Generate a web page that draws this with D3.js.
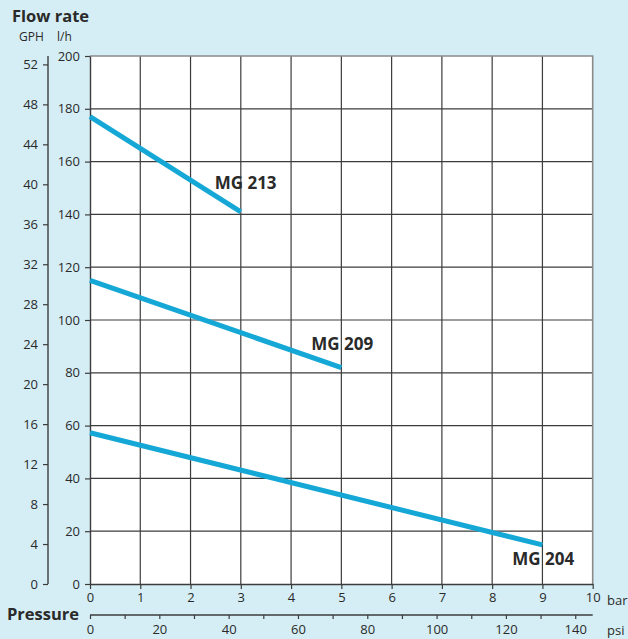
<!DOCTYPE html>
<html><head><meta charset="utf-8">
<script src="https://cdn.jsdelivr.net/npm/d3@7"></script>
<style>
html,body{margin:0;padding:0;background:#d5eef5;}
svg{display:block;}
text{font-family:"Open Sans","Noto Sans",sans-serif;fill:#2a2a2a;}
</style></head><body>
<svg id="c" width="628" height="639"></svg>
<script>
// Data (pressure in bar, flow in l/h)
const models = ["MG 213", "MG 209", "MG 204"];
const pressureBar = [[0, 3], [0, 5], [0, 9]];
const flowLh = [[177, 141], [115, 82], [57.3, 14.8]];
const labelPos = [[2.48, 149.5], [4.4, 88.5], [8.4, 7.2]]; // label anchor in data units
const barTicks = [0,1,2,3,4,5,6,7,8,9,10];
const psiTicks = [0,20,40,60,80,100,120,140];
const lhTicks = [0,20,40,60,80,100,120,140,160,180,200];
const gphTicks = [0,4,8,12,16,20,24,28,32,36,40,44,48,52];
const LH_PER_GAL = 3.785;
const PSI_PER_BAR = 14.5038;

const svg = d3.select("#c");
const L = 90, R = 592.7, T = 56, B = 584;
const x = d3.scaleLinear().domain([0,10]).range([L,R]);
const y = d3.scaleLinear().domain([0,200]).range([B,T]);
const yG = d3.scaleLinear().domain([0,200/LH_PER_GAL]).range([B,T]);
const xP = d3.scaleLinear().domain([0,10*PSI_PER_BAR]).range([L,R]);

svg.append("rect").attr("x",L).attr("y",T).attr("width",R-L).attr("height",B-T).attr("fill","#fff");

// grid
const g = svg.append("g");
g.selectAll(".vx").data(barTicks.slice(1,-1)).join("line")
 .attr("x1",d=>x(d)).attr("x2",d=>x(d)).attr("y1",T).attr("y2",B)
 .attr("stroke","#3c3c3c").attr("stroke-width",1.2);
g.selectAll(".hy").data(lhTicks.slice(1,-1)).join("line")
 .attr("y1",d=>y(d)).attr("y2",d=>y(d)).attr("x1",L).attr("x2",R)
 .attr("stroke","#3c3c3c").attr("stroke-width",1.2);
// border top/right (gray)
svg.append("path").attr("d",`M${L},${T}H${R}V${B}`).attr("fill","none").attr("stroke","#8a8a8a").attr("stroke-width",1.6);

function styleAxis(sel){
  sel.select(".domain").attr("stroke","#3c3c3c").attr("stroke-width",1.4);
  sel.selectAll(".tick line").attr("stroke","#3c3c3c").attr("stroke-width",1.2);
  sel.selectAll(".tick text").attr("font-size",13).attr("fill","#2a2a2a").attr("font-family",'"Open Sans","Noto Sans",sans-serif');
}

// l/h axis
const ay = svg.append("g").attr("transform",`translate(${L},0)`)
 .call(d3.axisLeft(y).tickValues(lhTicks).tickSize(5).tickSizeOuter(0).tickPadding(5));
styleAxis(ay);
// GPH axis
const ag = svg.append("g").attr("transform",`translate(48,0)`)
 .call(d3.axisLeft(yG).tickValues(gphTicks).tickSize(5).tickSizeOuter(0).tickPadding(5));
styleAxis(ag);
ag.select(".domain").attr("d",`M0,${T}V${B}H0`);
// bar axis
const ax = svg.append("g").attr("transform",`translate(0,${B})`)
 .call(d3.axisBottom(x).tickValues(barTicks).tickSize(5).tickSizeOuter(0).tickPadding(4));
styleAxis(ax);
// psi axis
const ap = svg.append("g").attr("transform",`translate(0,615)`)
 .call(d3.axisBottom(xP).tickValues(d3.range(0,150,10)).tickSize(4).tickSizeOuter(0).tickPadding(6)
   .tickFormat(d=>psiTicks.includes(d)?d:""));
styleAxis(ap);
ap.select(".domain").attr("d",`M${L},0H${R}`);

// lines
const lineGen = d3.line().x(d=>x(d[0])).y(d=>y(d[1]));
models.forEach((m,i)=>{
  const pts = pressureBar[i].map((p,j)=>[p, flowLh[i][j]]);
  svg.append("path").datum(pts).attr("d",lineGen)
    .attr("fill","none").attr("stroke","#15a8d6").attr("stroke-width",5);
  svg.append("text").attr("x",x(labelPos[i][0])).attr("y",y(labelPos[i][1]))
    .attr("font-size",17).attr("font-weight","bold").attr("fill","#222").text(m);
});

// titles
svg.append("text").attr("x",12).attr("y",22).attr("font-size",16.5).attr("font-weight","bold").text("Flow rate");
svg.append("text").attr("x",19).attr("y",41).attr("font-size",12).text("GPH");
svg.append("text").attr("x",57).attr("y",41).attr("font-size",12).text("l/h");
svg.append("text").attr("x",7).attr("y",620).attr("font-size",16.5).attr("font-weight","bold").text("Pressure");
svg.append("text").attr("x",607).attr("y",605).attr("font-size",13).text("bar");
svg.append("text").attr("x",607).attr("y",635).attr("font-size",13).text("psi");
</script></body></html>
